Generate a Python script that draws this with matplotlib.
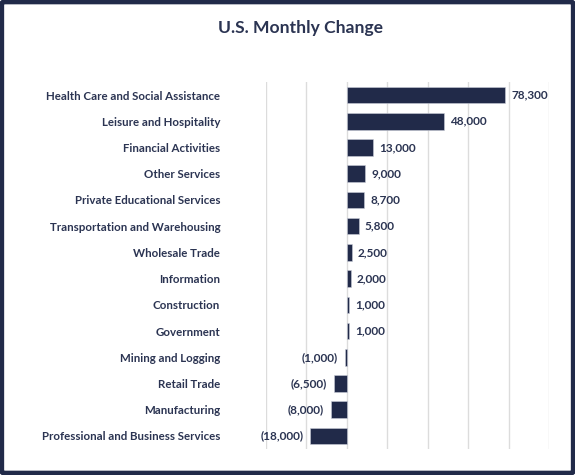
import matplotlib.pyplot as plt
from matplotlib.patches import FancyBboxPatch

NAVY = '#212a49'
TEXT = '#2b3452'

categories = [
    'Health Care and Social Assistance',
    'Leisure and Hospitality',
    'Financial Activities',
    'Other Services',
    'Private Educational Services',
    'Transportation and Warehousing',
    'Wholesale Trade',
    'Information',
    'Construction',
    'Government',
    'Mining and Logging',
    'Retail Trade',
    'Manufacturing',
    'Professional and Business Services',
]
changes = [78300, 48000, 13000, 9000, 8700, 5800, 2500, 2000, 1000, 1000,
           -1000, -6500, -8000, -18000]


def fmt(v):
    s = f"{abs(v):,}"
    return f"({s})" if v < 0 else s


plt.rcParams['font.family'] = ['Lato', 'DejaVu Sans']

fig = plt.figure(figsize=(5.75, 4.75), dpi=100)
ax = fig.add_axes([0.4626, 0.0547, 0.4922, 0.7727])

ypos = list(range(len(categories)))
ax.barh(ypos, changes, height=0.63, color=NAVY, edgecolor='#c9cdd8',
        linewidth=0.4, zorder=3)

for y, v in zip(ypos, changes):
    if v >= 0:
        ax.text(v + 3000, y, fmt(v), va='center', ha='left', fontsize=8.5,
                fontweight='bold', color=TEXT)
    else:
        ax.text(v - 3600, y, fmt(v), va='center', ha='right', fontsize=8.5,
                fontweight='bold', color=TEXT)

ax.set_xlim(-40000, 100000)
ax.set_ylim(len(categories) - 0.5, -0.5)
ax.set_xticks(range(-40000, 100001, 20000))
ax.xaxis.grid(True, color='#dcdcdc', linewidth=1.0, zorder=0)
ax.tick_params(axis='x', length=0, labelbottom=False)
ax.tick_params(axis='y', length=0, pad=33)
ax.set_yticks(ypos)
ax.set_yticklabels(categories, fontsize=8.3, fontweight='bold', color=TEXT)
for s in ax.spines.values():
    s.set_visible(False)

fig.text(0.523, 0.94, 'U.S. Monthly Change', ha='center', va='center',
         fontsize=12.6, fontweight='bold', color=TEXT)

frame = FancyBboxPatch((0.003, 0.004), 0.994, 0.992,
                       boxstyle='round,pad=0,rounding_size=0.004',
                       transform=fig.transFigure, fill=False,
                       edgecolor=NAVY, linewidth=3.5)
fig.patches.append(frame)

fig.savefig('out.png', dpi=100)
